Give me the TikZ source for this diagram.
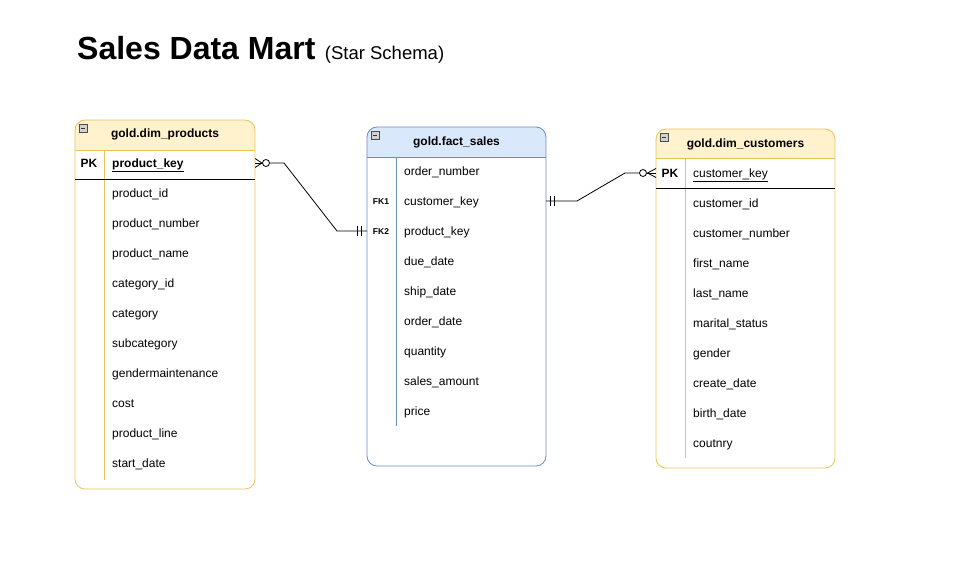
\documentclass[tikz,border=0pt]{standalone}
\usepackage{fontspec}
\setmainfont{Liberation Sans}
\definecolor{yfill}{HTML}{FFF2CC}
\definecolor{yline}{HTML}{E8C35E}
\definecolor{bfill}{HTML}{DAE8FC}
\definecolor{bline}{HTML}{6C8EBF}
\newcommand\ertable[9]{%
  % #1 L, #2 T, #3 R, #4 B, #5 header bottom, #6 fill, #7 line, #8 divider x, #9 divider end
  \fill[white,rounded corners=10pt] (#1,#2) rectangle (#3,#4);
  \begin{scope}
    \clip[rounded corners=10pt] (#1,#2) rectangle (#3,#4);
    \fill[#6] (#1,#2) rectangle (#3,#5);
  \end{scope}
  \draw[#7,line width=0.8pt,rounded corners=10pt] (#1,#2) rectangle (#3,#4);
  \draw[#7,line width=0.8pt] (#1,#5) -- (#3,#5);
  \draw[#7,line width=0.8pt] (#8,#5) -- (#8,#9);
  \draw[fill=gray!35,draw=gray!60!black,line width=0.5pt] ($(#1,#2)+(4,4)$) rectangle ++(8,8);
  \draw[black!80,line width=0.7pt] ($(#1,#2)+(6,8)$) -- ++(4,0);
}
\usetikzlibrary{calc}
\begin{document}
\begin{tikzpicture}[x=1pt,y=-1pt,
  row/.style={anchor=base west,inner sep=0pt,font=\fontsize{12}{14}\selectfont},
  hdr/.style={anchor=base,inner sep=0pt,font=\bfseries\fontsize{12}{14}\selectfont},
  keylbl/.style={anchor=base,inner sep=0pt,font=\bfseries\fontsize{12}{14}\selectfont},
  fklbl/.style={anchor=base,inner sep=0pt,font=\bfseries\fontsize{8.5}{10}\selectfont},
  conn/.style={draw=black,line width=0.8pt},
  ring/.style={draw=black,fill=white,line width=0.8pt}]
\useasboundingbox (0,0) rectangle (962,575);

% title
\node[anchor=base west,inner sep=0pt] (title) at (77,60)
  {\bfseries\fontsize{32}{36}\selectfont Sales Data Mart};
\node[anchor=base west,inner sep=0pt] (subtitle) at ($(title.base east)+(9,0)$)
  {\fontsize{18.5}{22}\selectfont(Star Schema)};

% ---------- dim_products ----------
\ertable{75}{120}{255}{489}{150}{yfill}{yline}{104}{480}
\draw[black,line width=0.8pt] (75,179.5) -- (255,179.5);
\node[hdr] (phdr) at (165,138) {gold.dim\_products};
\node[keylbl] (ppk) at (89,167.5) {PK};
\node[row,font=\bfseries\fontsize{12}{14}\selectfont] (p0) at (112,167.5) {\underline{product\_key}};
\foreach \t [count=\i] in {product\_id,product\_number,product\_name,category\_id,category,subcategory,gendermaintenance,cost,product\_line,start\_date}
  \node[row] (p\i) at (112,167.5+30*\i) {\t};

% ---------- fact_sales ----------
\ertable{367}{127}{546}{466}{157}{bfill}{bline}{396}{426}
\node[hdr] (fhdr) at (456.5,145.5) {gold.fact\_sales};
\foreach \t [count=\i from 0] in {order\_number,customer\_key,product\_key,due\_date,ship\_date,order\_date,quantity,sales\_amount,price}
  \node[row] (f\i) at (404,175.5+30*\i) {\t};
\node[fklbl] (fk1) at (381,204.5) {FK1};
\node[fklbl] (fk2) at (381,234.5) {FK2};

% ---------- dim_customers ----------
\ertable{656}{129}{835}{468}{158}{yfill}{yline}{685}{458}
\draw[black,line width=0.8pt] (656,188) -- (835,188);
\node[hdr] (chdr) at (745.5,147.5) {gold.dim\_customers};
\node[keylbl] (cpk) at (670,177.5) {PK};
\node[row] (c0) at (693,177.5) {\underline{customer\_key}};
\foreach \t [count=\i] in {customer\_id,customer\_number,first\_name,last\_name,marital\_status,gender,create\_date,birth\_date,coutnry}
  \node[row] (c\i) at (693,177.5+30*\i) {\t};

% ---------- connectors ----------
\coordinate (pR) at (255,163);
\coordinate (pK) at (284,163);
\coordinate (fL) at (367,231);
\coordinate (fB) at (337,231);
\draw[conn] (pR) ++(7.5,0) ++(7,0) -- (pK) -- (fB) -- (fL);
\draw[conn] (255,158.5) -- (262,163) -- (255,167.5);
\draw[conn] (pR) -- ++(8,0);
\draw[ring] (266,163) circle (3.5);
\draw[conn] (357.5,226) -- (357.5,236);
\draw[conn] (361.5,226) -- (361.5,236);

\coordinate (fR) at (546,201);
\coordinate (fK) at (577,201);
\coordinate (cB) at (625,173);
\coordinate (cL) at (656,173);
\draw[conn] (fR) -- (fK) -- (cB) -- ++(14.5,0);
\draw[ring] (643,173) circle (3.5);
\draw[conn] (656,168.5) -- (647.5,173) -- (656,177.5);
\draw[conn] (647,173) -- (cL);
\draw[conn] (550,196) -- (550,206);
\draw[conn] (554,196) -- (554,206);
\end{tikzpicture}
\end{document}
